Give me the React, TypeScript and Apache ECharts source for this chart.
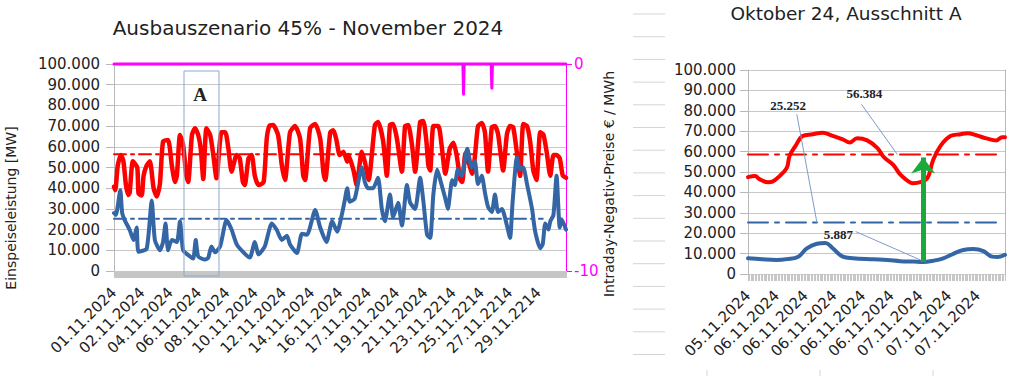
import React, { useEffect, useRef } from 'react';
import * as echarts from 'echarts';

// ---------- data ----------
const mainTickLabels = [
  '01.11.2024', '02.11.2024', '04.11.2024', '06.11.2024', '08.11.2024', '10.11.2024',
  '12.11.2024', '14.11.2024', '16.11.2024', '17.11.2024', '19.11.2024', '21.11.2024',
  '23.11.2214', '25.11.2214', '27.11.2214', '29.11.2214',
];
const MAIN_POINTS = 720; // hourly values, November
const MAIN_LABEL_STEP = 45;

const zoomTickLabels = [
  '05.11.2024', '06.11.2024', '06.11.2024', '06.11.2024', '06.11.2024',
  '06.11.2024', '07.11.2024', '07.11.2024', '07.11.2024',
];
const ZOOM_POINTS = 180; // quarter-hour values, section A
const ZOOM_LABEL_STEP = 20;

// [hour index, MW]
const redMain: [number, number][] = [
  [0, 40700], [2, 39000], [6, 51000], [11, 56000], [15, 53000], [19, 41500], [23, 36700], [25, 38000],
  [30, 53000], [37, 50000], [39, 37500], [44, 36500], [47, 46000], [52, 51000], [57, 53000], [63, 40000],
  [68, 36000], [73, 42000], [78, 62500], [86, 63300], [92, 51000], [97, 43000], [100, 46000], [105, 65700],
  [110, 60800], [115, 46000], [118, 43000], [124, 65700], [129, 69000], [134, 65700], [138, 59000], [142, 44400],
  [147, 69000], [153, 65700], [158, 56000], [163, 44800], [171, 67000], [177, 67000], [182, 59000], [187, 48000],
  [195, 56000], [200, 54500], [205, 43000], [208, 41500], [214, 54500], [219, 56000], [224, 46000], [230, 41500],
  [238, 43000], [243, 64000], [247, 70000], [253, 70500], [261, 65700], [267, 51000], [272, 44000], [280, 67000],
  [288, 70000], [296, 64000], [301, 46000], [304, 44000], [312, 69000], [320, 71000], [328, 64000], [333, 48000],
  [336, 44000], [344, 67000], [349, 68000], [354, 63000], [359, 56000], [365, 57600], [371, 52800], [373, 56000],
  [381, 48600], [386, 41500], [394, 57600], [399, 52800], [405, 44000], [415, 70500], [420, 72000], [428, 63000],
  [434, 46000], [439, 70500], [444, 71000], [450, 64000], [458, 48000], [463, 70000], [468, 70500], [474, 61000],
  [479, 48000], [487, 72000], [492, 72500], [497, 62500], [500, 51000], [503, 48600], [508, 70000], [516, 70000],
  [521, 61000], [527, 47000], [534, 59000], [540, 62000], [545, 56000], [551, 44000], [554, 43000], [559, 57000],
  [564, 52500], [570, 47000], [574, 55000], [579, 70000], [585, 71500], [590, 67000], [595, 48000], [601, 69500],
  [606, 70000], [611, 66000], [619, 48600], [625, 66000], [630, 70000], [635, 69500], [641, 57000], [646, 46000],
  [651, 71000], [657, 70000], [662, 62500], [667, 48600], [672, 44000], [678, 67000], [683, 66000], [688, 58000],
  [694, 46000], [699, 56000], [704, 56000], [709, 54500], [712, 49000], [714, 46000], [719, 45000],
];

const blueMain: [number, number][] = [
  [0, 28000], [3, 27000], [10, 39000], [13, 28000], [17, 24600], [25, 19800], [31, 15000], [36, 21000],
  [39, 9300], [52, 10800], [60, 34000], [65, 15000], [73, 10000], [78, 14000], [82, 23000], [86, 10000],
  [92, 15000], [100, 14000], [105, 24000], [110, 10000], [121, 7000], [126, 6000], [130, 15000], [134, 7000],
  [145, 5500], [150, 6500], [155, 11800], [161, 9000], [169, 12000], [179, 24600], [187, 20000], [195, 13000],
  [206, 9000], [216, 6500], [224, 14000], [230, 8000], [240, 12000], [251, 23000], [259, 19800], [267, 15000],
  [275, 17000], [280, 12800], [291, 8700], [299, 18000], [307, 17500], [320, 29500], [328, 21000], [338, 14000],
  [347, 24000], [355, 19000], [363, 28000], [367, 34000], [371, 40000], [375, 33500], [383, 35000], [394, 50000],
  [399, 43000], [404, 40000], [412, 40000], [420, 45000], [426, 30000], [431, 24000], [439, 37000], [444, 26000],
  [452, 33000], [458, 22000], [466, 41500], [471, 33000], [479, 30000], [487, 45000], [492, 34000], [498, 17500],
  [503, 16000], [508, 37000], [514, 49000], [519, 44000], [527, 35000], [531, 30000], [538, 44000], [542, 41500],
  [547, 49000], [553, 46000], [562, 59000], [569, 50000], [574, 53000], [579, 42000], [585, 46000], [590, 38000],
  [595, 31000], [601, 28500], [606, 37000], [611, 28500], [617, 30000], [625, 22000], [630, 16000], [634, 33000],
  [641, 55000], [646, 49000], [651, 50000], [657, 42000], [665, 30000], [670, 19000], [678, 11000], [682, 13000],
  [686, 23000], [691, 20000], [694, 24000], [699, 27000], [704, 46000], [709, 21000], [712, 25000], [719, 20000],
];

// [hour index, €/MWh]
const priceMain: [number, number][] = [
  [0, 0], [555, 0], [556, -1.46], [557, 0], [600, 0], [601, -1.17], [602, 0], [719, 0],
];

const redAvg = 56384;
const blueAvg = 25252;
const avgEndIndex = 682;

// [quarter-hour index, MW]
const redZoom: [number, number][] = [
  [0, 47500], [5, 48000], [8, 46500], [14, 45000], [17, 45300], [22, 48000], [27, 52000], [29, 58000],
  [33, 62700], [38, 67600], [45, 68500], [52, 69300], [58, 68000], [66, 66000], [71, 64500], [76, 66500],
  [83, 65500], [90, 61800], [95, 57000], [101, 53600], [106, 48800], [111, 45800], [115, 44500], [120, 45000],
  [125, 47000], [129, 56000], [134, 62700], [141, 67600], [148, 68500], [153, 69000], [159, 68000], [166, 66500],
  [173, 65500], [177, 67000], [179, 67000],
];
const blueZoom: [number, number][] = [
  [0, 7700], [10, 7200], [20, 6900], [27, 7300], [35, 8500], [41, 12600], [48, 14800], [54, 15200],
  [59, 12600], [66, 8500], [73, 7700], [87, 7200], [97, 6900], [106, 6300], [115, 6100], [122, 5887],
  [129, 6500], [136, 7700], [143, 9900], [150, 11800], [157, 12200], [164, 11200], [170, 8500], [174, 8300],
  [179, 9400],
];
const zoomRedAvgLevel = 58600;
const zoomBlueAvgLevel = 25252;
const zoomAvgEndIndex = 175;
const zoomMinIndex = 122;
const zoomMinValue = 5887;
const arrowTopValue = 57100;

// ---------- helpers ----------
const FONT = 'DejaVu Sans';
const SERIF = 'Liberation Serif';
const TXT = '#222222';
const fmt = (v: number) => String(v).replace(/\B(?=(\d{3})+(?!\d))/g, '.');

const mainCats = Array.from({ length: MAIN_POINTS }, (_, i) =>
  i % MAIN_LABEL_STEP === 0 ? mainTickLabels[i / MAIN_LABEL_STEP] : 'h' + i);
const zoomCats = Array.from({ length: ZOOM_POINTS }, (_, i) =>
  i % ZOOM_LABEL_STEP === 0 ? zoomTickLabels[i / ZOOM_LABEL_STEP] : 'q' + i);

function buildOption(): any {
  const valueAxis = (grid: number, margin: number) => ({
    type: 'value', gridIndex: grid, min: 0, max: 100000, interval: 10000,
    axisLine: { show: true, lineStyle: { color: '#b8b8b8' } },
    axisTick: { show: true, length: 8, lineStyle: { color: '#b8b8b8' } },
    axisLabel: { formatter: fmt, fontSize: 15, fontFamily: FONT, color: TXT, margin },
    splitLine: { show: true, lineStyle: { color: '#c8c8c8' } },
  });
  const catAxis = (grid: number, data: string[], interval: number) => ({
    type: 'category', gridIndex: grid, data, boundaryGap: false,
    axisLine: { show: false },
    axisTick: { show: true, interval: 0, length: 7, lineStyle: { color: '#c6c6c6' } },
    axisLabel: {
      interval, rotate: 45, fontSize: 15, fontFamily: FONT, color: TXT, margin: 19,
      formatter: (v: string) => (v.startsWith('h') || v.startsWith('q') ? '' : v),
    },
    splitLine: { show: false },
  });
  const line = (x: number, y: number, data: any, color: string, width: number, extra: any = {}) => {
    const { lineStyle: ls, ...rest } = extra;
    return {
      type: 'line', xAxisIndex: x, yAxisIndex: y, data, showSymbol: false, symbol: 'none',
      lineStyle: { color, width, cap: 'round', join: 'round', ...(ls || {}) },
      itemStyle: { color }, ...rest,
    };
  };

  const decoLines: any[] = [];
  for (let k = 0; k < 16; k++) {
    const y = 14 + k * 22.7;
    decoLines.push({ type: 'line', shape: { x1: 633, y1: y, x2: 665, y2: y }, style: { stroke: '#d4d4d4', lineWidth: 1 } });
  }
  [707, 820, 933].forEach((x) =>
    decoLines.push({ type: 'line', shape: { x1: x, y1: 370, x2: x, y2: 376 }, style: { stroke: '#d4d4d4', lineWidth: 1 } }));

  return {
    animation: false,
    backgroundColor: '#ffffff',
    grid: [
      { left: 114, right: 458, top: 64, bottom: 105 },
      { left: 748, right: 19, top: 70, bottom: 102 },
    ],
    xAxis: [catAxis(0, mainCats, MAIN_LABEL_STEP - 1), catAxis(1, zoomCats, ZOOM_LABEL_STEP - 1)],
    yAxis: [
      valueAxis(0, 14),
      {
        type: 'value', gridIndex: 0, position: 'right', min: -10, max: 0, interval: 10,
        axisLine: { show: true, lineStyle: { color: '#ff00ff' } },
        axisTick: { show: true, length: 6, lineStyle: { color: '#ff00ff' } },
        axisLabel: { fontSize: 15, fontFamily: FONT, color: '#ff00ff', margin: 8 },
        splitLine: { show: false },
      },
      valueAxis(1, 12),
      {
        type: 'value', gridIndex: 1, position: 'right', min: 0, max: 100000,
        axisLine: { show: true, lineStyle: { color: '#b8b8b8' } },
        axisTick: { show: false }, axisLabel: { show: false }, splitLine: { show: false },
      },
    ],
    series: [
      line(0, 0, [[0, blueAvg], [avgEndIndex, blueAvg]], '#3465a4', 2, { lineStyle: { type: [12, 5, 3, 5] }, z: 1 }),
      line(0, 0, [[0, redAvg], [avgEndIndex, redAvg]], '#ff0000', 2, { lineStyle: { type: [12, 5, 3, 5] }, z: 1 }),
      line(0, 0, redMain, '#ff0000', 4.5, { smooth: 0.2, z: 2 }),
      line(0, 0, blueMain, '#3465a4', 4, { smooth: 0.2, z: 3 }),
      line(0, 1, priceMain, '#ff00ff', 3, { clip: false, z: 4 }),
      line(1, 2, [[0, zoomBlueAvgLevel], [zoomAvgEndIndex, zoomBlueAvgLevel]], '#3465a4', 2, { lineStyle: { type: [20, 7, 4, 7] }, z: 1 }),
      line(1, 2, [[0, zoomRedAvgLevel], [zoomAvgEndIndex, zoomRedAvgLevel]], '#ff0000', 2, { lineStyle: { type: [20, 7, 4, 7] }, z: 1 }),
      {
        ...line(1, 2, blueZoom, '#3465a4', 4, { smooth: 0.4, z: 2 }),
        markLine: {
          silent: true, symbol: 'none', animation: false,
          lineStyle: { color: '#7f9cc8', width: 1, type: 'solid' },
          label: { show: false },
          data: [
            [{ coord: [34, 78300] }, { coord: [48, zoomBlueAvgLevel] }],
            [{ coord: [79, 83200] }, { coord: [104, zoomRedAvgLevel] }],
            [{ coord: [75, 20800] }, { coord: [121, 6600] }],
          ],
        },
        markPoint: {
          silent: true, symbol: 'rect', symbolSize: 1, itemStyle: { color: 'rgba(0,0,0,0)' },
          label: { show: true, position: 'inside', fontFamily: SERIF, fontWeight: 'bold', fontSize: 13, color: TXT },
          data: [
            { coord: [28, 82800], label: { formatter: fmt(blueAvg) } },
            { coord: [81, 88700], label: { formatter: fmt(redAvg) } },
            { coord: [63, 19500], label: { formatter: fmt(zoomMinValue) } },
          ],
        },
      },
      {
        ...line(1, 2, redZoom, '#ff0000', 4, { smooth: 0.4, z: 3 }),
        markLine: {
          silent: true, animation: false, label: { show: false },
          symbol: ['none', 'arrow'], symbolSize: [18, 16],
          lineStyle: { color: '#1ca93c', width: 5, type: 'solid' },
          data: [[{ coord: [zoomMinIndex, zoomMinValue] }, { coord: [zoomMinIndex, arrowTopValue] }]],
        },
      },
    ],
    graphic: [
      ...decoLines,
      { type: 'text', x: 308, y: 28, style: { text: 'Ausbauszenario 45% - November 2024', font: `20px "${FONT}"`, fill: TXT, align: 'center', verticalAlign: 'middle' } },
      { type: 'text', x: 846, y: 13, style: { text: 'Oktober 24, Ausschnitt A', font: `18.5px "${FONT}"`, fill: TXT, align: 'center', verticalAlign: 'middle' } },
      { type: 'text', x: 11, y: 208, rotation: Math.PI / 2, style: { text: 'Einspeiseleistung [MW]', font: `14px "${FONT}"`, fill: TXT, align: 'center', verticalAlign: 'middle' } },
      { type: 'text', x: 609, y: 184, rotation: Math.PI / 2, style: { text: 'Intraday-Negativ-Preise € / MWh', font: `14px "${FONT}"`, fill: TXT, align: 'center', verticalAlign: 'middle' } },
      { type: 'rect', shape: { x: 184, y: 71, width: 35, height: 205 }, style: { fill: 'none', stroke: '#8fa9cc', lineWidth: 1 }, z: 10 },
      { type: 'text', x: 200, y: 94, style: { text: 'A', font: `bold 19px "${SERIF}"`, fill: TXT, align: 'center', verticalAlign: 'middle' }, z: 10 },
    ],
  };
}

export default function App() {
  const ref = useRef<HTMLDivElement>(null);
  useEffect(() => {
    if (!ref.current) return;
    const chart = echarts.init(ref.current, null, { renderer: 'svg' });
    chart.setOption(buildOption());
    return () => chart.dispose();
  }, []);
  return (
    <div
      ref={ref}
      style={{ position: 'absolute', left: 0, top: 0, width: 1024, height: 376, background: '#fff' }}
    />
  );
}
